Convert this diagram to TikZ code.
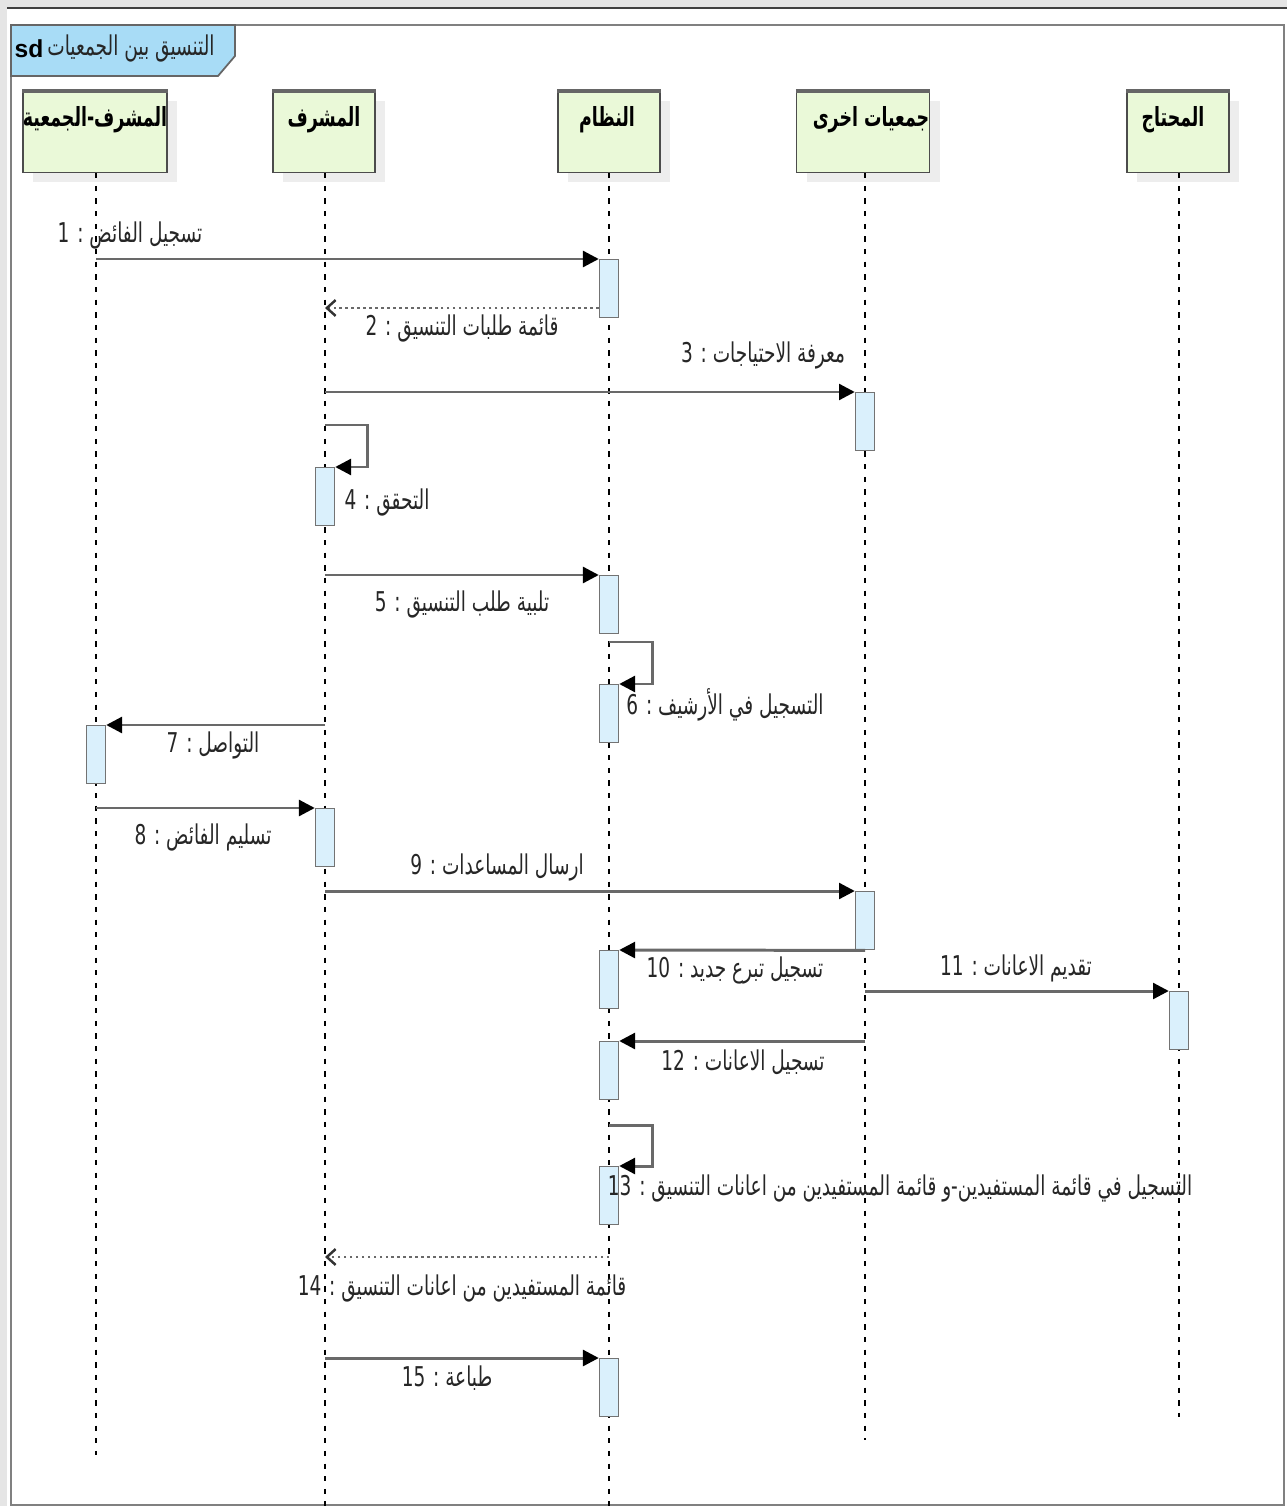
\documentclass[tikz,border=0pt]{standalone}
\usepackage{fontspec}
\setmainfont{Liberation Sans}
\newfontfamily\arabicfont[Script=Arabic,FakeStretch=0.68]{DejaVu Sans}
\newfontfamily\arabichead[Script=Arabic,FakeStretch=0.66]{DejaVu Sans}
\TeXXeTstate=1
\usetikzlibrary{arrows.meta,shadows}
\definecolor{headfill}{RGB}{234,249,216}
\definecolor{actfill}{RGB}{218,240,252}
\definecolor{tabfill}{RGB}{168,220,246}
\definecolor{linegray}{RGB}{105,105,105}
\newcommand{\artxt}[1]{{\arabicfont\beginR #1\endR}}
\newcommand{\hdtxt}[1]{{\arabichead\bfseries\beginR #1\endR}}

\begin{document}
\begin{tikzpicture}[x=0.02cm,y=-0.02cm,
  head/.style={draw=black!70,fill=headfill,line width=0.8pt,minimum height=1.62cm,
    general shadow={fill=black!7,shadow xshift=0.2cm,shadow yshift=-0.2cm}},
  act/.style={draw=black!55,fill=actfill,line width=0.8pt,minimum width=0.38cm,
    minimum height=1.16cm,inner sep=0pt,anchor=north},
  life/.style={dash pattern=on 3pt off 4.2pt,line width=0.8pt},
  msg/.style={draw=linegray,line width=1.7pt,-{Triangle[length=9pt,width=9pt,color=black]}},
  ret/.style={draw=linegray,line width=1.4pt,dotted,-{Straight Barb[length=5pt,width=9pt,color=black!80]}},
  txt/.style={font=\fontsize{15.5}{17}\selectfont,text=black!85,inner sep=0pt},
  htxt/.style={font=\fontsize{15}{17}\selectfont,inner sep=0pt}]

  \useasboundingbox (0,0) rectangle (1287,1506);
  \fill[black!10] (0,0) rectangle (1287,1506);
  \fill[white] (7,8) rectangle (1287,1506);
  \draw[black!75,line width=1pt] (7,8) -- (1287,8);
  \draw[black!50,line width=1.5pt] (11,25) rectangle (1284,1505);

  \draw[fill=tabfill,draw=black!60,line width=1pt]
    (11,25) -- (235,25) -- (235,56) -- (218,76) -- (11,76) -- cycle;
  \node (sd)[font=\fontsize{14}{16}\selectfont\bfseries] at (29,49) {sd};
  \node (ttl)[txt] at (131,48) {\artxt{التنسيق بين الجمعيات}};

  \node (hA)[head,minimum width=2.88cm] at (95,132) {};
  \node (hB)[head,minimum width=2.04cm] at (324,132) {};
  \node (hC)[head,minimum width=2.04cm] at (609,132) {};
  \node (hD)[head,minimum width=2.66cm] at (863,132) {};
  \node (hE)[head,minimum width=2.04cm] at (1178,132) {};
  \draw[line width=2pt,black!60] (hA.north west) -- (hA.north east);
  \draw[line width=2pt,black!60] (hB.north west) -- (hB.north east);
  \draw[line width=2pt,black!60] (hC.north west) -- (hC.north east);
  \draw[line width=2pt,black!60] (hD.north west) -- (hD.north east);
  \draw[line width=2pt,black!60] (hE.north west) -- (hE.north east);
  \node (tA)[htxt] at (95,120) {\hdtxt{المشرف-الجمعية}};
  \node (tB)[htxt] at (324,120) {\hdtxt{المشرف}};
  \node (tC)[htxt] at (607,120) {\hdtxt{النظام}};
  \node (tD)[htxt] at (871,120) {\hdtxt{جمعيات اخرى}};
  \node (tE)[htxt] at (1173,120) {\hdtxt{المحتاج}};

  \coordinate (eA) at (96,1455);
  \coordinate (eB) at (325,1506);
  \coordinate (eC) at (609,1506);
  \coordinate (eD) at (865,1440);
  \coordinate (eE) at (1179,1417);
  \draw[life] (hA.south -| eA) -- (eA);
  \draw[life] (hB.south -| eB) -- (eB);
  \draw[life] (hC.south) -- (eC);
  \draw[life] (hD.south -| eD) -- (eD);
  \draw[life] (hE.south -| eE) -- (eE);

  \node (a1)[act] at (609,259) {};
  \node (a3)[act] at (865,392) {};
  \node (a4)[act] at (325,467) {};
  \node (a5)[act] at (609,575) {};
  \node (a6)[act] at (609,684) {};
  \node (a7)[act] at (96,725) {};
  \node (a8)[act] at (325,808) {};
  \node (a9)[act] at (865,891) {};
  \node (a10)[act] at (609,950) {};
  \node (a11)[act] at (1179,991) {};
  \node (a12)[act] at (609,1041) {};
  \node (a13)[act] at (609,1166) {};
  \node (a15)[act] at (609,1358) {};

  \coordinate (m1) at (96,259);
  \coordinate (m2) at (325,308);
  \coordinate (m3) at (325,392);
  \coordinate (m4) at (325,425);
  \coordinate (m5) at (325,575);
  \coordinate (m6) at (609,642);
  \coordinate (m7) at (325,725);
  \coordinate (m8) at (96,808);
  \coordinate (m9) at (325,891);
  \coordinate (m11) at (865,991);
  \coordinate (m12) at (865,1041);
  \coordinate (m13) at (609,1125);
  \coordinate (m14) at (609,1257);
  \coordinate (r14) at (325,1257);
  \coordinate (m15) at (325,1358);

  \draw[msg] (m1) -- (a1.north west);
  \draw[ret] (m2 -| a1.west) -- (m2);
  \draw[msg] (m3) -- (a3.north west);
  \draw[msg] (m4) -- ++(42,0) |- (a4.north east);
  \draw[msg] (m5) -- (a5.north west);
  \draw[msg] (m6) -- ++(43,0) |- (a6.north east);
  \draw[msg] (m7) -- (a7.north east);
  \draw[msg] (m8) -- (a8.north west);
  \draw[msg] (m9) -- (a9.north west);
  \draw[msg] (a9.south) -- (a10.north east);
  \draw[msg] (m11) -- (a11.north west);
  \draw[msg] (m12) -- (a12.north east);
  \draw[msg] (m13) -- ++(43,0) |- (a13.north east);
  \draw[ret] (m14) -- (r14);
  \draw[msg] (m15) -- (a15.north west);

  \node (l1)[txt] at (130,235) {\artxt{تسجيل الفائض : 1}};
  \node (l2)[txt] at (462,328) {\artxt{قائمة طلبات التنسيق : 2}};
  \node (l3)[txt] at (763,355) {\artxt{معرفة الاحتياجات : 3}};
  \node (l4)[txt] at (387,502) {\artxt{التحقق : 4}};
  \node (l5)[txt] at (462,604) {\artxt{تلبية طلب التنسيق : 5}};
  \node (l6)[txt] at (725,705) {\artxt{التسجيل في الأرشيف : 6}};
  \node (l7)[txt] at (213,745) {\artxt{التواصل : 7}};
  \node (l8)[txt] at (203,837) {\artxt{تسليم الفائض : 8}};
  \node (l9)[txt] at (497,867) {\artxt{ارسال المساعدات : 9}};
  \node (l10)[txt] at (735,970) {\artxt{تسجيل تبرع جديد : \beginL 10\endL}};
  \node (l11)[txt] at (1016,968) {\artxt{تقديم الاعانات : \beginL 11\endL}};
  \node (l12)[txt] at (743,1062) {\artxt{تسجيل الاعانات : \beginL 12\endL}};
  \node (l13)[txt] at (900,1188) {\artxt{التسجيل في قائمة المستفيدين-و قائمة  المستفيدين من اعانات التنسيق : \beginL 13\endL}};
  \node (l14)[txt] at (462,1288) {\artxt{قائمة المستفيدين من اعانات التنسيق : \beginL 14\endL}};
  \node (l15)[txt] at (447,1378) {\artxt{طباعة : \beginL 15\endL}};
\end{tikzpicture}
\end{document}
